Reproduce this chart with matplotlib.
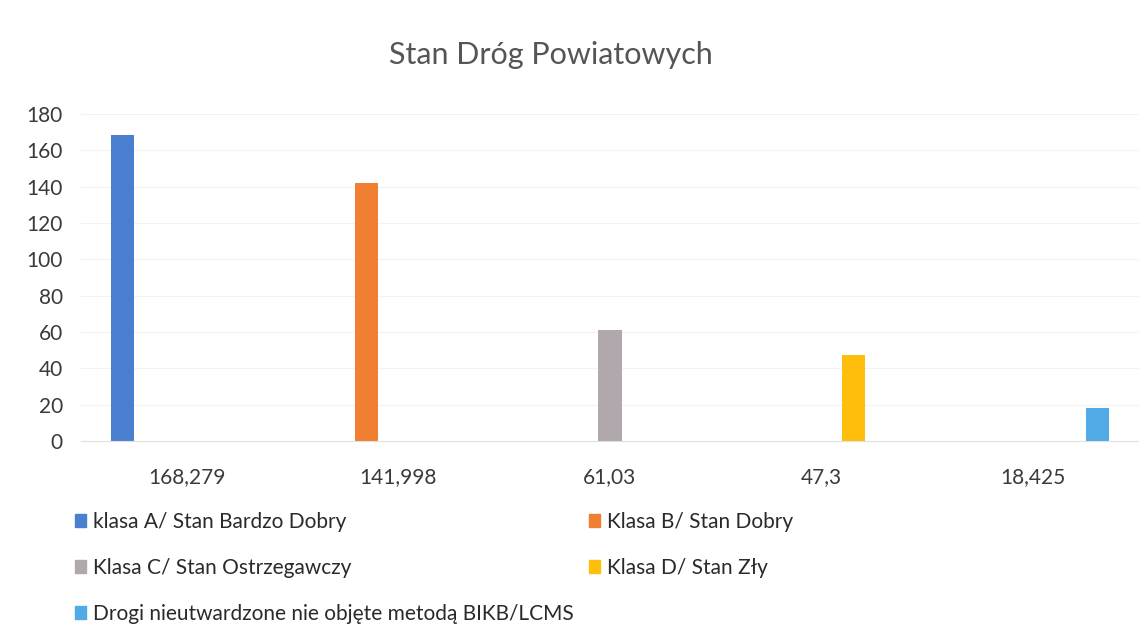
import numpy as np
import matplotlib.pyplot as plt
from matplotlib.patches import Patch

plt.rcParams['font.family'] = ['Lato', 'DejaVu Sans']

# Data
categories = ['168,279', '141,998', '61,03', '47,3', '18,425']
values = [168.279, 141.998, 61.03, 47.3, 18.425]
series = ['klasa A/ Stan Bardzo Dobry', 'Klasa B/ Stan Dobry',
          'Klasa C/ Stan Ostrzegawczy', 'Klasa D/ Stan Zły',
          'Drogi nieutwardzone nie objęte metodą BIKB/LCMS']
colors = ['#4A7FD0', '#F07F32', '#B0A8AC', '#FFBE0B', '#4FAAE6']

W, H = 1139, 635
fig = plt.figure(figsize=(W / 100, H / 100), dpi=100)
# plot area in pixels
left, right, bottom, top = 81, 1139, 441, 114
ax = fig.add_axes([left / W, (H - bottom) / H, (right - left) / W, (bottom - top) / H])

x = np.arange(len(categories))
slot = 0.151  # spacing between series inside a category
bw = 0.109
for i, (name, col) in enumerate(zip(series, colors)):
    vals = [values[j] if j == i else 0 for j in range(len(categories))]
    ax.bar(x + (i - 2) * slot, vals, width=bw, color=col, label=name, zorder=2)

ax.set_xlim(-0.5, len(categories) - 0.5)
ax.set_ylim(0, 180)
ax.set_yticks(np.arange(0, 181, 20))
ax.set_xticks(x)
ax.set_xticklabels(categories)
ax.grid(axis='y', color='#f2f2f2', linewidth=0.8, zorder=0)
for s in ['top', 'right', 'left']:
    ax.spines[s].set_visible(False)
ax.spines['bottom'].set_color('#e0e0e0')
ax.tick_params(length=0, labelsize=15, colors='#3a3a3a')
ax.tick_params(axis='x', pad=19)
ax.tick_params(axis='y', pad=13)

fig.text(551 / W, 1 - 64 / H, 'Stan Dróg Powiatowych', ha='center', va='baseline',
         fontsize=22, color='#555555')

handles = [Patch(color=c) for c in colors]
leg_kw = dict(frameon=False, fontsize=15, handlelength=0.55, handleheight=0.55,
              handletextpad=0.3, labelspacing=1.25, borderpad=0, borderaxespad=0,
              loc='upper left', labelcolor='#2a2a2a')
leg1 = fig.legend([handles[0], handles[2], handles[4]], [series[0], series[2], series[4]],
                  bbox_to_anchor=(75 / W, 1 - 512 / H), **leg_kw)
leg2 = fig.legend([handles[1], handles[3]], [series[1], series[3]],
                  bbox_to_anchor=(589 / W, 1 - 512 / H), **leg_kw)

fig.savefig('out.png', dpi=100)
